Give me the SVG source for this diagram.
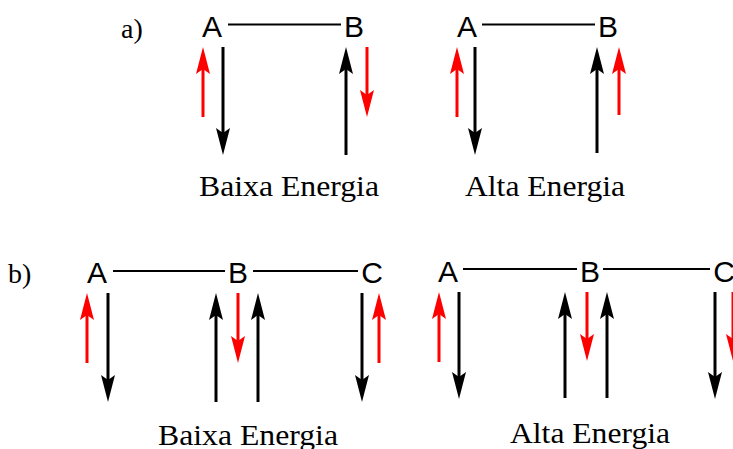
<svg xmlns="http://www.w3.org/2000/svg" width="733" height="449" viewBox="0 0 733 449">
  <style>
    .atom { font-family: "Liberation Sans", Arial, sans-serif; font-size: 30px; fill: #000; text-anchor: middle; }
    .cap { font-family: "Liberation Serif", "Times New Roman", serif; font-size: 29px; fill: #000; }
    .tag { font-family: "Liberation Serif", "Times New Roman", serif; font-size: 28px; fill: #000; }
    .bond { stroke: #000; stroke-width: 2.2; fill: none; }
    .spin-k { stroke: #000; stroke-width: 3; fill: none; marker-end: url(#headK); }
    .spin-r { stroke: #ff0000; stroke-width: 3; fill: none; marker-end: url(#headR); }
  </style>
  <defs>
    <!-- stealth heads; the line ends at the notch, the tip sits 22px beyond -->
    <marker id="headK" markerUnits="userSpaceOnUse" viewBox="0 -8 28 16" refX="5" refY="0" markerWidth="28" markerHeight="16" orient="auto">
      <path d="M0,-7 L27,0 L0,7 L5,0 Z" fill="#000"/>
    </marker>
    <marker id="headR" markerUnits="userSpaceOnUse" viewBox="0 -8 28 16" refX="5" refY="0" markerWidth="28" markerHeight="16" orient="auto">
      <path d="M0,-7 L27,0 L0,7 L5,0 Z" fill="#ff0000"/>
    </marker>
  </defs>

  <rect width="733" height="449" fill="#fff"/>

  <!-- panel labels -->
  <text class="tag" x="121" y="38">a)</text>
  <text class="tag" x="8" y="283">b)</text>

  <!-- atoms -->
  <g id="a-low-A"><text class="atom" x="212" y="37">A</text></g>
  <g id="a-low-B"><text class="atom" x="354" y="37">B</text></g>
  <g id="a-high-A"><text class="atom" x="467" y="37">A</text></g>
  <g id="a-high-B"><text class="atom" x="608" y="37">B</text></g>
  <g id="b-low-A"><text class="atom" x="97" y="283">A</text></g>
  <g id="b-low-B"><text class="atom" x="238" y="283">B</text></g>
  <g id="b-low-C"><text class="atom" x="372" y="283">C</text></g>
  <g id="b-high-A"><text class="atom" x="448" y="282">A</text></g>
  <g id="b-high-B"><text class="atom" x="590" y="282">B</text></g>
  <g id="b-high-C"><text class="atom" x="724" y="282">C</text></g>

  <!-- bonds and spin arrows -->
  <g id="connectors">
    <line class="bond" x1="228" y1="24.5" x2="341" y2="24.5"/>
    <line class="bond" x1="482" y1="24.5" x2="595" y2="24.5"/>
    <line class="bond" x1="113" y1="271" x2="225" y2="271"/>
    <line class="bond" x1="253" y1="271" x2="358" y2="271"/>
    <line class="bond" x1="463" y1="269" x2="577" y2="269"/>
    <line class="bond" x1="603" y1="269" x2="710" y2="269"/>

    <!-- a) low energy -->
    <line class="spin-r" x1="203" y1="117" x2="203" y2="69"/>
    <line class="spin-k" x1="223" y1="47" x2="223" y2="133"/>
    <line class="spin-k" x1="346" y1="155" x2="346" y2="69"/>
    <line class="spin-r" x1="367" y1="47" x2="367" y2="95"/>

    <!-- a) high energy -->
    <line class="spin-r" x1="457" y1="117" x2="457" y2="69"/>
    <line class="spin-k" x1="475" y1="47" x2="475" y2="133"/>
    <line class="spin-k" x1="597" y1="153" x2="597" y2="69"/>
    <line class="spin-r" x1="619" y1="115" x2="619" y2="69"/>

    <!-- b) low energy -->
    <line class="spin-r" x1="87" y1="363" x2="87" y2="315"/>
    <line class="spin-k" x1="108" y1="293" x2="108" y2="380"/>
    <line class="spin-k" x1="216" y1="402" x2="216" y2="315"/>
    <line class="spin-r" x1="238" y1="293" x2="238" y2="341"/>
    <line class="spin-k" x1="258" y1="402" x2="258" y2="315"/>
    <line class="spin-k" x1="362" y1="293" x2="362" y2="380"/>
    <line class="spin-r" x1="379" y1="363" x2="379" y2="315"/>

    <!-- b) high energy -->
    <line class="spin-r" x1="439" y1="362" x2="439" y2="314"/>
    <line class="spin-k" x1="459" y1="292" x2="459" y2="377"/>
    <line class="spin-k" x1="565" y1="398" x2="565" y2="314"/>
    <line class="spin-r" x1="587" y1="292" x2="587" y2="339"/>
    <line class="spin-k" x1="607" y1="398" x2="607" y2="314"/>
    <line class="spin-k" x1="715" y1="292" x2="715" y2="377"/>
    <line class="spin-r" x1="733" y1="292" x2="733" y2="339"/>
  </g>

  <!-- captions -->
  <text class="cap" x="199" y="196" textLength="180" lengthAdjust="spacingAndGlyphs">Baixa Energia</text>
  <text class="cap" x="465" y="196" textLength="160" lengthAdjust="spacingAndGlyphs">Alta Energia</text>
  <text class="cap" x="158" y="445" textLength="180" lengthAdjust="spacingAndGlyphs">Baixa Energia</text>
  <text class="cap" x="510" y="443" textLength="160" lengthAdjust="spacingAndGlyphs">Alta Energia</text>
</svg>
